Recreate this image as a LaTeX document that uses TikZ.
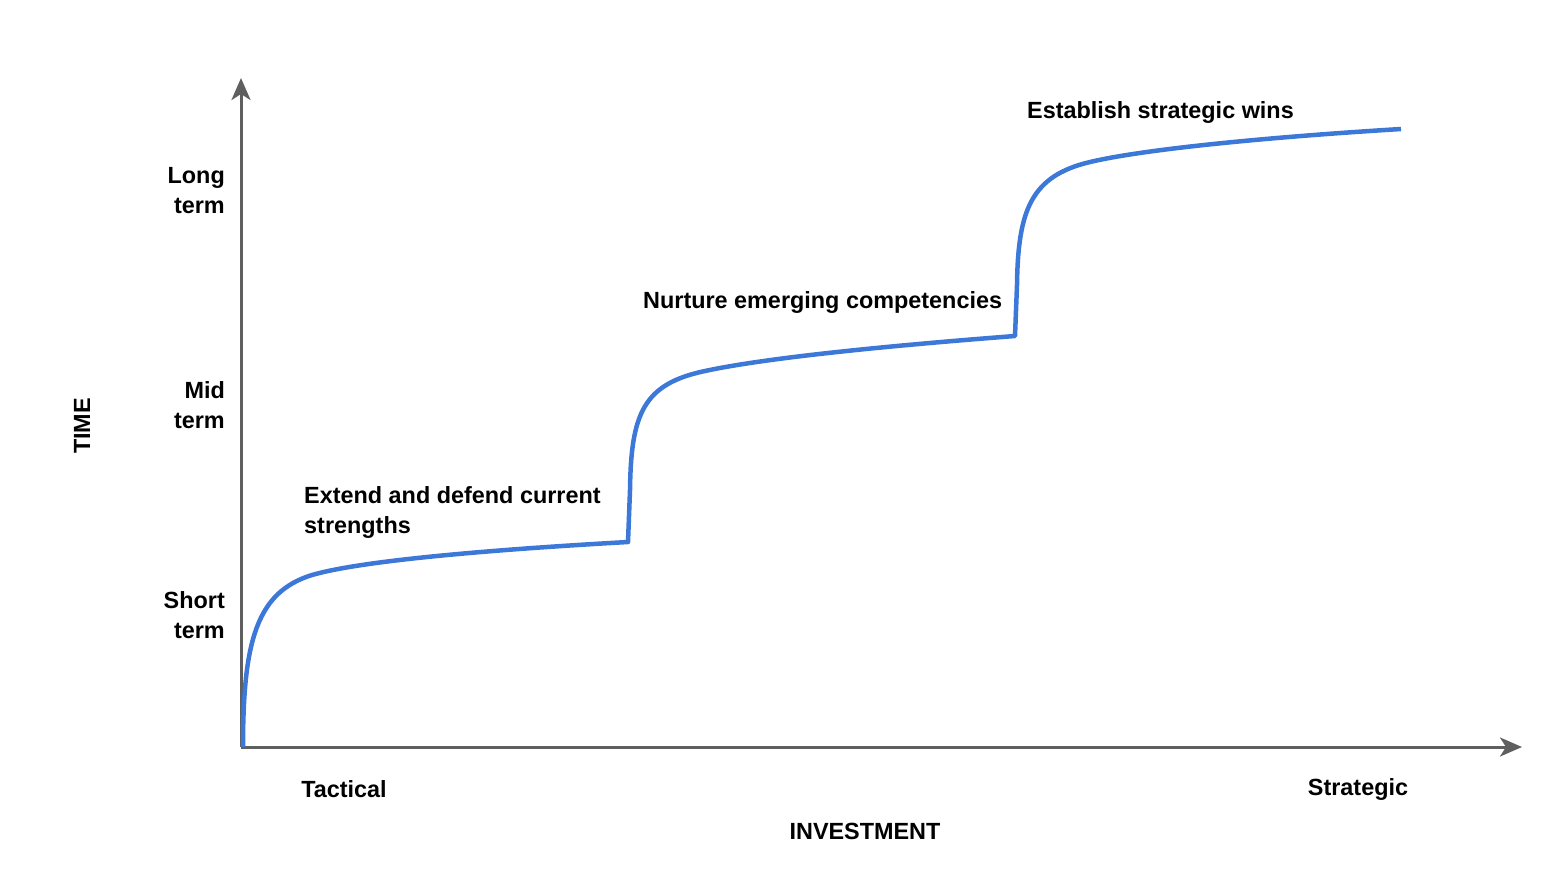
\documentclass[tikz,border=0pt]{standalone}
\usepackage{fontspec}
\setmainfont{Liberation Sans}
\usetikzlibrary{arrows.meta}
\definecolor{axisgray}{HTML}{5F5F5F}
\definecolor{curveblue}{HTML}{3C78D8}
\tikzset{
  axis/.style={draw=axisgray, line width=3pt, -{Stealth[length=22pt,width=19pt,inset=6pt]}},
  curve/.style={draw=curveblue, line width=4.5pt, line join=round},
  lbl/.style={inner sep=0pt, font=\fontsize{23.4}{30}\selectfont\bfseries, text=black},
}
\begin{document}
\begin{tikzpicture}[x=1pt,y=-1pt]
\useasboundingbox (0,0) rectangle (1550,884);
\coordinate (O) at (241,747);
\coordinate (ytip) at (241,78);
\coordinate (xtip) at (1522,747);
\draw[axis] (O) -- (ytip);
\draw[axis] (O) -- (xtip);
% curve
\coordinate (s0) at (243,747);
\coordinate (s1) at (628,542);
\coordinate (s2) at (1015,336);
\coordinate (s3) at (1401,129);
\draw[curve] (s0) .. controls (243,640) and (257,592) .. (312,575)
  .. controls (360,561) and (485,550) .. (s1)
  -- (630,490) .. controls (631,414) and (643,384) .. (705,371)
  .. controls (765,358) and (885,346) .. (s2)
  -- (1017,285) .. controls (1018,210) and (1031,176) .. (1090,162)
  .. controls (1145,149) and (1270,137) .. (s3);
% labels
\node[lbl, align=right, anchor=east] (long) at (225,191) {Long\\term};
\node[lbl, align=right, anchor=east] (mid) at (225,405) {Mid\\term};
\node[lbl, align=right, anchor=east] (short) at (225,615) {Short\\term};
\node[lbl, rotate=90] (time) at (82,426) {TIME};
\node[lbl] (tact) at (344,789) {Tactical};
\node[lbl] (strat) at (1358,789) {Strategic};
\node[lbl] (inv) at (865,831) {INVESTMENT};
\node[lbl, align=left, anchor=west] (ext) at (304,512) {Extend and defend current\\strengths};
\node[lbl, anchor=west] (nur) at (643,302) {Nurture emerging competencies};
\node[lbl, anchor=west] (est) at (1027,112) {Establish strategic wins};
\end{tikzpicture}
\end{document}
